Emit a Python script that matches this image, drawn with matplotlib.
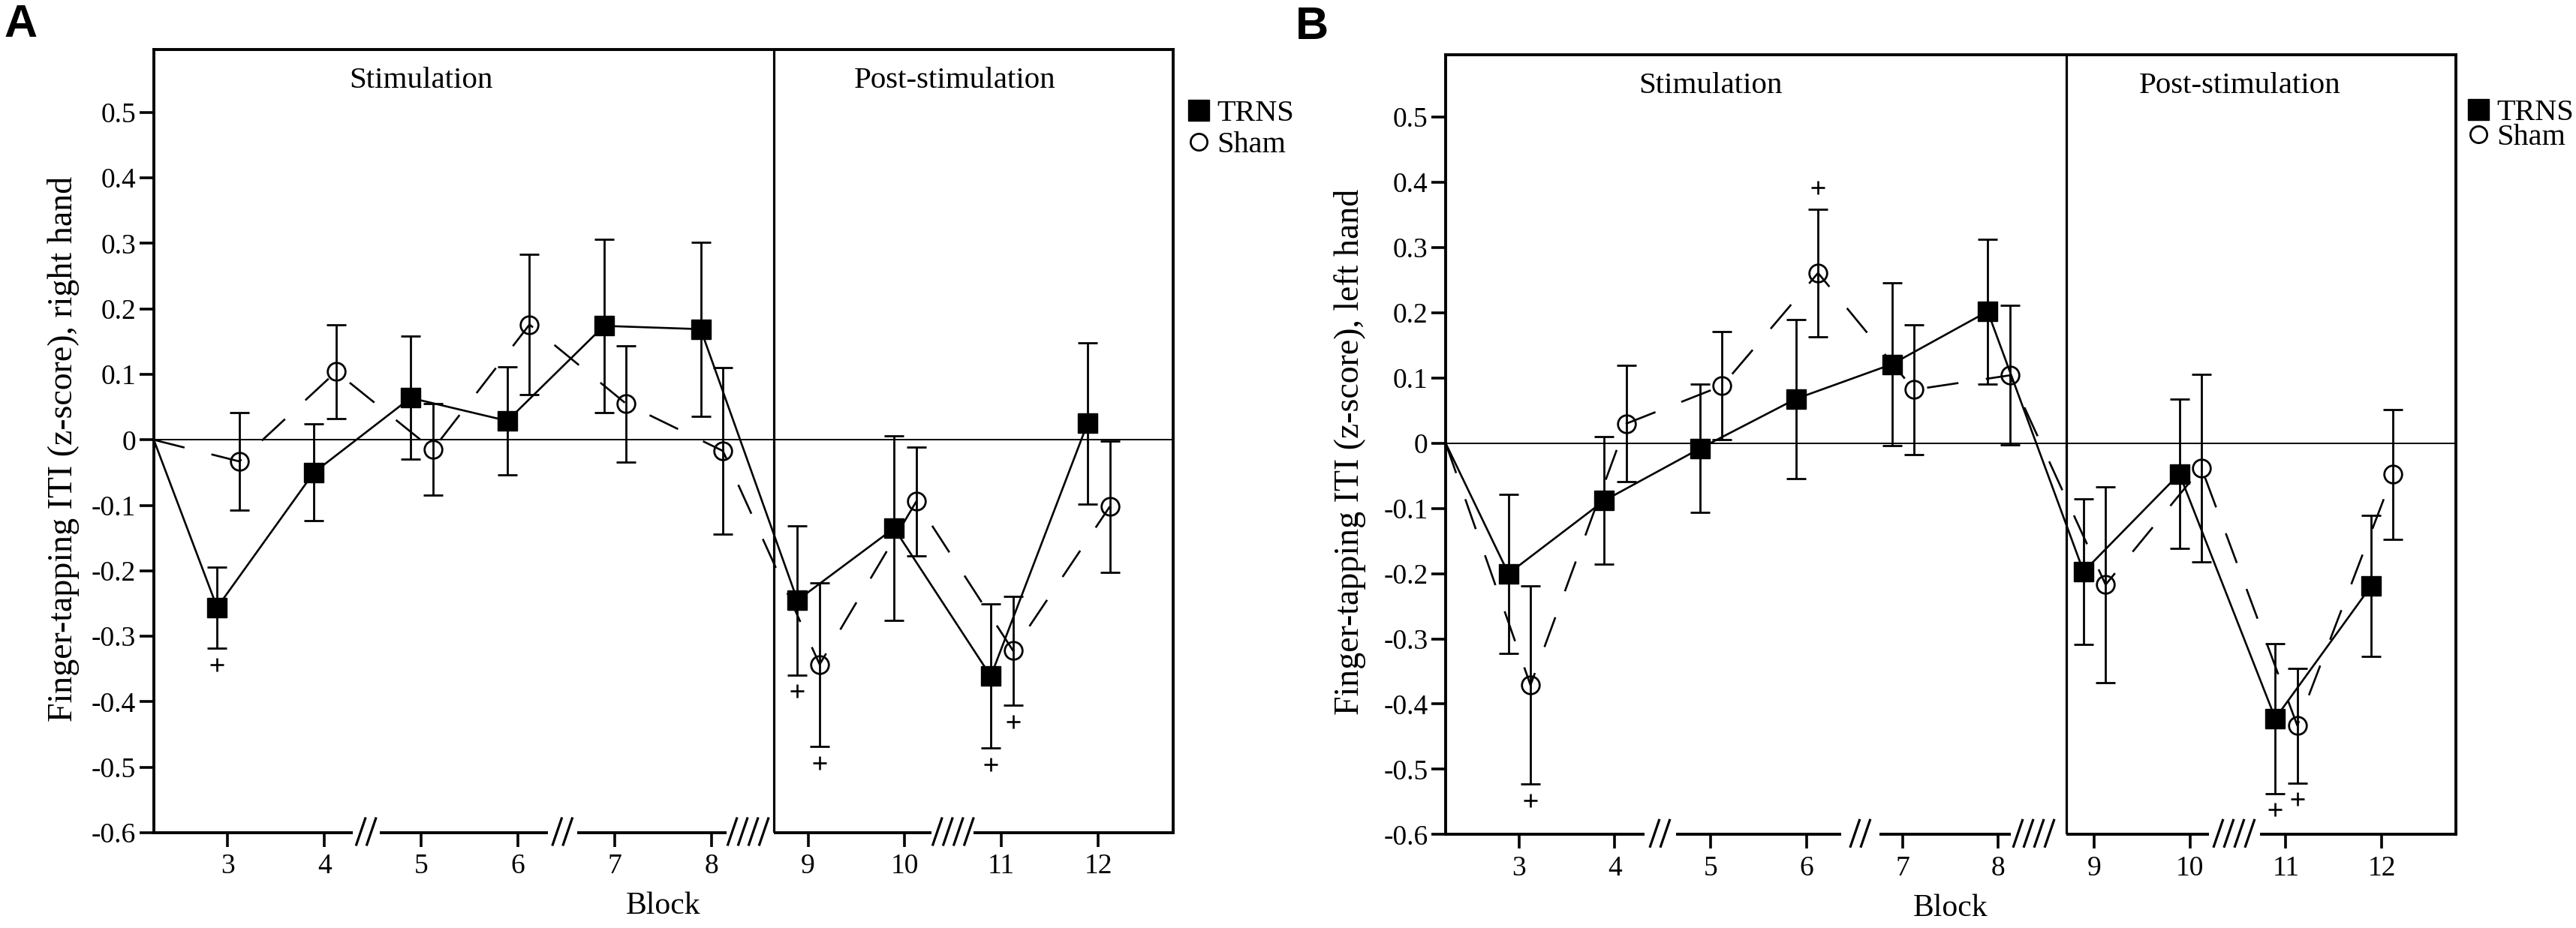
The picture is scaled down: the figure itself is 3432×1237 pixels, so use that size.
import numpy as np
import matplotlib
matplotlib.use('Agg')
import matplotlib.pyplot as plt
from matplotlib.lines import Line2D

plt.rcParams['font.family'] = ['Liberation Serif', 'DejaVu Serif']

# ---- data ----
blocks = np.array([3, 4, 5, 6, 7, 8, 9, 10, 11, 12])

trns_right = [-0.256, -0.050, 0.064, 0.029, 0.174, 0.169, -0.245, -0.135, -0.361, 0.025]
trns_right_err = [0.062, 0.074, 0.094, 0.082, 0.132, 0.133, 0.114, 0.141, 0.110, 0.123]
sham_right = [-0.033, 0.104, -0.015, 0.176, 0.055, -0.017, -0.343, -0.094, -0.322, -0.102]
sham_right_err = [0.074, 0.072, 0.070, 0.107, 0.089, 0.127, 0.125, 0.083, 0.083, 0.100]

trns_left = [-0.200, -0.088, -0.008, 0.068, 0.121, 0.202, -0.197, -0.047, -0.422, -0.219]
trns_left_err = [0.122, 0.098, 0.098, 0.122, 0.125, 0.111, 0.112, 0.114, 0.115, 0.108]
sham_left = [-0.371, 0.030, 0.088, 0.261, 0.082, 0.104, -0.217, -0.038, -0.433, -0.048]
sham_left_err = [0.152, 0.089, 0.083, 0.098, 0.099, 0.107, 0.150, 0.144, 0.088, 0.099]

# blocks marked with "+" (below the bar, or above with 'up')
plus_trns_right = {3: 'down', 9: 'down', 11: 'down'}
plus_sham_right = {9: 'down', 11: 'down'}
plus_trns_left = {11: 'down'}
plus_sham_left = {3: 'down', 6: 'up', 11: 'down'}

ytick_vals = [0.5, 0.4, 0.3, 0.2, 0.1, 0, -0.1, -0.2, -0.3, -0.4, -0.5, -0.6]
ytick_labels = ['0.5', '0.4', '0.3', '0.2', '0.1', '0', '-0.1', '-0.2', '-0.3', '-0.4', '-0.5', '-0.6']
series_names = ['TRNS', 'Sham']

# ---- figure ----
fig = plt.figure(figsize=(34.32, 12.37), dpi=100)

XMIN, XMAX = 2.235, 12.775
YMIN, YMAX = -0.6, 0.596
LW = 1.9


def draw_panel(ax, trns, trns_err, sham, sham_err, plus_t, plus_s, hand, divider, breaks, leg_anchor, leg_space):
    x_t = blocks - 0.11
    x_s = blocks + 0.12

    ax.axhline(0, color='k', lw=1.4, zorder=1)
    ax.axvline(divider, color='k', lw=2.3, zorder=1)

    # lines start from the origin at the left edge
    ax.plot(np.r_[XMIN, x_t], np.r_[0, trns], color='k', lw=LW, zorder=2, clip_on=False)
    ax.plot(np.r_[XMIN, x_s], np.r_[0, sham], color='k', lw=LW, ls=(0, (16, 14)), zorder=2, clip_on=False)

    ax.errorbar(x_t, trns, yerr=trns_err, fmt='none', ecolor='k', elinewidth=2.0,
                capsize=9.5, capthick=2.0, zorder=3)
    ax.errorbar(x_s, sham, yerr=sham_err, fmt='none', ecolor='k', elinewidth=2.0,
                capsize=9.5, capthick=2.0, zorder=3)
    ax.plot(x_t, trns, 's', color='k', ms=19, zorder=4)
    ax.plot(x_s, sham, 'o', mfc='none', mec='k', mew=2.0, ms=17, zorder=4)

    # "+" marks
    for xs, m, e, marks in [(x_t, trns, trns_err, plus_t), (x_s, sham, sham_err, plus_s)]:
        for b, d in marks.items():
            i = list(blocks).index(b)
            if d == 'down':
                yy = m[i] - e[i] - 0.025
            else:
                yy = m[i] + e[i] + 0.033
            ax.plot(xs[i], yy, marker='+', color='k', ms=12.5, mew=1.9, zorder=4)

    ax.text(5.0, 0.548, 'Stimulation', ha='center', va='center', fontsize=29.5)
    ax.text(10.52, 0.548, 'Post-stimulation', ha='center', va='center', fontsize=29.5)

    ax.set_xlim(XMIN, XMAX)
    ax.set_ylim(YMIN, YMAX)
    ax.set_xticks(blocks)
    ax.set_xticklabels([str(b) for b in blocks])
    ax.set_yticks(ytick_vals)
    ax.set_yticklabels(ytick_labels)
    ax.tick_params(axis='both', direction='out', length=14, width=2.6, labelsize=27)
    ax.tick_params(axis='x', pad=6)
    ax.tick_params(axis='y', pad=3)
    for s in ['left', 'top', 'right']:
        ax.spines[s].set_linewidth(2.8)
    ax.spines['bottom'].set_visible(False)

    # broken x axis: line segments with gaps, slashes drawn in the gaps
    tr = ax.get_xaxis_transform()
    px_x = ax.bbox.width / (XMAX - XMIN)
    px_y = ax.bbox.height
    edges = [XMIN]
    for a, b, c, n in breaks:
        edges += [a, b]
    edges.append(XMAX)
    for a, b in zip(edges[0::2], edges[1::2]):
        ax.plot([a, b], [0, 0], color='k', lw=2.8, transform=tr, clip_on=False,
                solid_capstyle='butt')
    for a, b, c, n in breaks:
        step = 14 / px_x
        for k in range(n):
            cx = c + (k - (n - 1) / 2) * step
            ax.plot([cx - 6 / px_x, cx + 6 / px_x], [-16 / px_y, 19 / px_y], color='k',
                    lw=2.3, transform=tr, clip_on=False)

    ax.set_xlabel('Block', fontsize=30, labelpad=12)
    ax.set_ylabel('Finger-tapping ITI (z-score), ' + hand + ' hand', fontsize=33)

    handles = [Line2D([], [], marker='s', ls='none', color='k', ms=20),
               Line2D([], [], marker='o', ls='none', mfc='none', mec='k', mew=2.0, ms=16)]
    ax.legend(handles, series_names, loc='upper left', bbox_to_anchor=leg_anchor,
              frameon=False, fontsize=29, handlelength=0.8, handletextpad=0.22,
              labelspacing=leg_space, borderaxespad=0, borderpad=0)


ax_a = fig.add_axes([0.0597, 0.1027, 0.3957, 0.8439])
draw_panel(ax_a, trns_right, trns_right_err, sham_right, sham_right_err,
           plus_trns_right, plus_sham_right, 'right', 8.65,
           [(4.29, 4.57, 4.43, 2), (6.31, 6.61, 6.46, 2), (8.16, 8.65, 8.38, 4), (10.28, 10.71, 10.5, 4)],
           (1.013, 0.936), 0.12)
ax_a.yaxis.set_label_coords(-0.073, 0.49)

ax_b = fig.add_axes([0.5612, 0.1008, 0.3922, 0.8405])
draw_panel(ax_b, trns_left, trns_left_err, sham_left, sham_left_err,
           plus_trns_left, plus_sham_left, 'left', 8.71,
           [(4.31, 4.64, 4.47, 2), (6.36, 6.76, 6.56, 2), (8.13, 8.71, 8.37, 4), (10.2, 10.73, 10.46, 4)],
           (1.010, 0.943), -0.1)
ax_b.yaxis.set_label_coords(-0.079, 0.49)

fig.text(0.0015, 1 - 5 / 1237, 'A', fontsize=44, fontweight='bold',
         family='Liberation Sans', ha='left', va='top')
fig.text(0.503, 1 - 8 / 1237, 'B', fontsize=44, fontweight='bold',
         family='Liberation Sans', ha='left', va='top')

fig.savefig('out.png', dpi=100)
